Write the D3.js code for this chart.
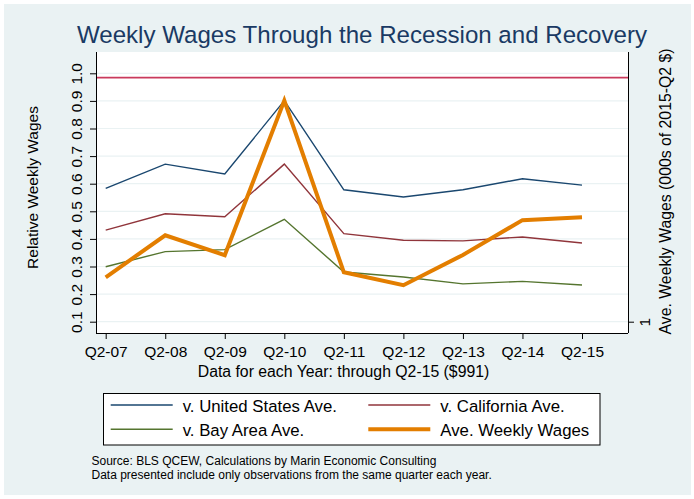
<!DOCTYPE html>
<html>
  <head>
    <meta charset="utf-8" />
    <script src="https://d3js.org/d3.v7.min.js"></script>
    <style>
      body { margin: 0; background: #ffffff; }
      svg text { font-family: "Liberation Sans", Arial, Helvetica, sans-serif; fill: #000; }
      .grid line { stroke: #eaf2f3; stroke-width: 1.2; }
      .axis path, .axis line { stroke: #000; }
      .series { fill: none; stroke-linejoin: miter; }
    </style>
  </head>
  <body>
    <div id="chart"></div>
    <script type="text/javascript">

      var w = 694, h = 499;

      var quarters = ["Q2-07", "Q2-08", "Q2-09", "Q2-10", "Q2-11", "Q2-12", "Q2-13", "Q2-14", "Q2-15"];
      var usAve   = [0.583, 0.671, 0.635, 0.901, 0.578, 0.552, 0.578, 0.618, 0.595];
      var caAve   = [0.432, 0.491, 0.480, 0.671, 0.419, 0.395, 0.393, 0.407, 0.385];
      var bayAve  = [0.299, 0.354, 0.361, 0.471, 0.280, 0.262, 0.237, 0.246, 0.233];
      var wages   = [0.261, 0.413, 0.341, 0.901, 0.279, 0.232, 0.342, 0.468, 0.478];
      var refLine = 0.984;
      var leftTicks = [0.1, 0.2, 0.3, 0.4, 0.5, 0.6, 0.7, 0.8, 0.9, 1.0];
      var rightTicks = [1];

      var series = [
        { name: "v. United States Ave.", values: usAve, color: "#1a476f", width: 1.4 },
        { name: "v. California Ave.", values: caAve, color: "#90353b", width: 1.4 },
        { name: "v. Bay Area Ave.", values: bayAve, color: "#55752f", width: 1.4 },
        { name: "Ave. Weekly Wages", values: wages, color: "#e37e00", width: 4 }
      ];

      var plot = { left: 96, right: 628, top: 52, bottom: 333 };

      var svg = d3.select("#chart").append("svg")
        .attr("width", w).attr("height", h);

      // graph region background
      svg.append("rect").attr("x", 4).attr("y", 4).attr("width", 687).attr("height", 491)
        .attr("fill", "#eaf2f3");
      svg.append("rect").attr("x", plot.left).attr("y", plot.top)
        .attr("width", plot.right - plot.left).attr("height", plot.bottom - plot.top)
        .attr("fill", "#ffffff");

      var x = d3.scalePoint().domain(quarters).range([105.7, 582]);
      var y = d3.scaleLinear().domain([0.1, 1.0]).range([321.7, 73.3]);
      // right axis shares the same pixel range
      var yRight = d3.scaleLinear().domain([1, 1.9]).range([321.7, 73.3]);

      // gridlines
      svg.append("g").attr("class", "grid")
        .selectAll("line").data(leftTicks).enter().append("line")
        .attr("x1", plot.left).attr("x2", plot.right)
        .attr("y1", function(d) { return y(d); }).attr("y2", function(d) { return y(d); });

      // reference line
      svg.append("line")
        .attr("x1", plot.left).attr("x2", plot.right)
        .attr("y1", y(refLine)).attr("y2", y(refLine))
        .attr("stroke", "#c93a5c").attr("stroke-width", 1.8);

      // series
      var line = d3.line()
        .x(function(d, i) { return x(quarters[i]); })
        .y(function(d) { return y(d); });

      svg.selectAll("path.series").data(series).enter().append("path")
        .attr("class", "series")
        .attr("d", function(d) { return line(d.values); })
        .attr("stroke", function(d) { return d.color; })
        .attr("stroke-width", function(d) { return d.width; });

      // axes
      var xAxis = svg.append("g").attr("class", "axis")
        .attr("transform", "translate(0," + plot.bottom + ")")
        .call(d3.axisBottom(x).tickSize(6).tickSizeOuter(0));
      xAxis.select(".domain").attr("d", "M" + plot.left + ",0.5H" + plot.right);
      xAxis.selectAll("text").attr("font-size", "15.5px").attr("dy", null).attr("y", 24);

      var yAxis = svg.append("g").attr("class", "axis")
        .attr("transform", "translate(" + plot.left + ",0)")
        .call(d3.axisLeft(y).tickValues(leftTicks).tickSize(6).tickSizeOuter(0)
          .tickFormat(d3.format(".1f")));
      yAxis.select(".domain").attr("d", "M0.5," + plot.top + "V" + plot.bottom);
      yAxis.selectAll("text")
        .attr("font-size", "15.5px")
        .attr("x", null).attr("dy", null)
        .attr("text-anchor", "middle")
        .attr("transform", "translate(-14,0) rotate(-90)");

      var yAxisR = svg.append("g").attr("class", "axis")
        .attr("transform", "translate(" + plot.right + ",0)")
        .call(d3.axisRight(yRight).tickValues(rightTicks).tickSize(6).tickSizeOuter(0)
          .tickFormat(d3.format("d")));
      yAxisR.select(".domain").attr("d", "M0.5," + plot.top + "V" + plot.bottom);
      yAxisR.selectAll("text")
        .attr("font-size", "15.5px")
        .attr("x", null).attr("dy", null)
        .attr("text-anchor", "middle")
        .attr("transform", "translate(22,0) rotate(-90)");

      // titles
      svg.append("text").attr("x", 362).attr("y", 43).attr("text-anchor", "middle")
        .attr("font-size", "24.1px").style("fill", "#1a3a64")
        .text("Weekly Wages Through the Recession and Recovery");

      svg.append("text").attr("x", 343.5).attr("y", 376.5).attr("text-anchor", "middle")
        .attr("font-size", "15.8px")
        .text("Data for each Year: through Q2-15 ($991)");

      svg.append("text").attr("transform", "translate(38,187.5) rotate(-90)")
        .attr("text-anchor", "middle").attr("font-size", "15.5px")
        .text("Relative Weekly Wages");

      svg.append("text").attr("transform", "translate(671,191.5) rotate(-90)")
        .attr("text-anchor", "middle").attr("font-size", "15.8px")
        .text("Ave. Weekly Wages (000s of 2015-Q2 $)");

      // legend
      var legend = svg.append("g");
      legend.append("rect").attr("x", 103.5).attr("y", 393.5).attr("width", 496.5).attr("height", 51.5)
        .attr("fill", "#ffffff").attr("stroke", "#000").attr("stroke-width", 1);

      legend.selectAll("g.item").data(series).enter().append("g")
        .attr("class", "item")
        .each(function(d, i) {
          var col = i % 2, row = Math.floor(i / 2);
          var lx = col === 0 ? 110.7 : 368.3;
          var ly = row === 0 ? 405 : 429.3;
          d3.select(this).append("line")
            .attr("x1", lx).attr("x2", lx + 62).attr("y1", ly).attr("y2", ly)
            .attr("stroke", d.color).attr("stroke-width", d.width);
          d3.select(this).append("text")
            .attr("x", lx + 72).attr("y", ly + 6.5)
            .attr("font-size", "16.8px").text(d.name);
        });

      // source note
      svg.append("text").attr("x", 91.5).attr("y", 465).attr("font-size", "12px")
        .text("Source: BLS QCEW, Calculations by Marin Economic Consulting");
      svg.append("text").attr("x", 91.5).attr("y", 478.5).attr("font-size", "12px")
        .text("Data presented include only observations from the same quarter each year.");

    </script>
  </body>
</html>
